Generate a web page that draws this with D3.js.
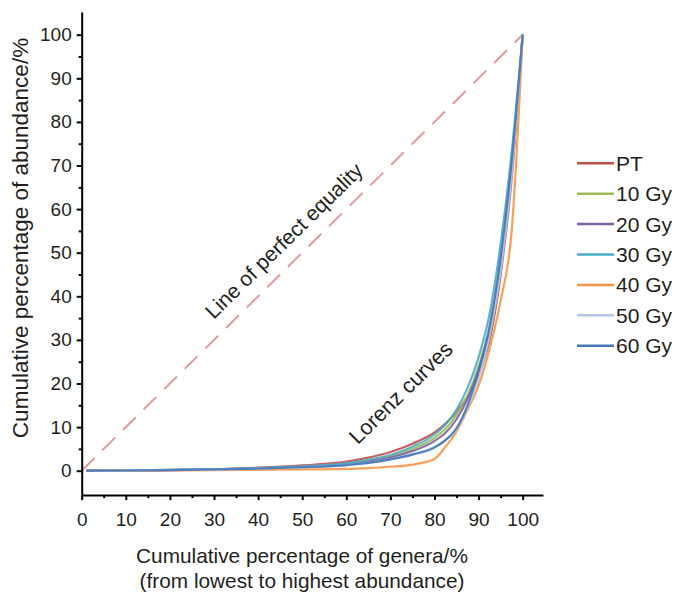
<!DOCTYPE html>
<html>
<head>
<meta charset="utf-8">
<script src="https://cdn.jsdelivr.net/npm/d3@7"></script>
<style>
  body { margin: 0; background: #fff; }
  text { font-family: "Liberation Sans", Arial, sans-serif; fill: #231f20; }
</style>
</head>
<body>
<div id="chart"></div>
<script>
// cumulative % of genera (x) at which each curve is read
const xs = [1, 10, 20, 30, 40, 50, 60, 65, 70, 75, 80, 82.5, 85, 87.5, 90, 92.5, 95, 97.5, 100];

const seriesNames = ["PT", "10 Gy", "20 Gy", "30 Gy", "40 Gy", "50 Gy", "60 Gy"];
const seriesColors = ["#c0504d", "#9bbb59", "#8064a2", "#4bacc6", "#f79646", "#b3c9e6", "#4677b8"];

const pt    = [0, 0.05, 0.2, 0.35, 0.7, 1.2, 2.1, 3, 4.3, 6.2, 8.8, 10.8, 13.5, 17, 22, 30, 45, 67, 100];
const gy10  = [0, 0.05, 0.15, 0.3, 0.5, 0.9, 1.6, 2.3, 3.3, 5, 7.5, 9.6, 12.8, 17.3, 24, 33, 48, 70, 100];
const gy20  = [0, 0.05, 0.15, 0.3, 0.5, 0.9, 1.5, 2.1, 3, 4.5, 6.8, 8.7, 11.8, 16.5, 23, 32, 47, 69, 100];
const gy30  = [0, 0.05, 0.2, 0.3, 0.6, 1, 1.7, 2.5, 3.6, 5.5, 8.3, 10.6, 14, 19, 26, 36, 52, 73, 100];
const gy40  = [0, 0, 0.05, 0.1, 0.2, 0.3, 0.4, 0.6, 0.9, 1.4, 2.7, 5.5, 9, 14, 19.5, 28, 39, 55, 100];
const gy50  = [0, 0.05, 0.15, 0.25, 0.45, 0.8, 1.3, 1.8, 2.6, 3.8, 5.5, 7, 9.5, 14.5, 21, 31, 46, 68, 100];
const gy60  = [0, 0.05, 0.15, 0.3, 0.5, 0.8, 1.3, 1.8, 2.6, 3.7, 5.3, 7, 9.8, 15, 23, 33, 49, 71, 100];
const seriesValues = [pt, gy10, gy20, gy30, gy40, gy50, gy60];

const majorTicks = [0, 10, 20, 30, 40, 50, 60, 70, 80, 90, 100];
const minorTicks = [5, 15, 25, 35, 45, 55, 65, 75, 85, 95];

const width = 676;
const height = 593;

const svg = d3.select("#chart").append("svg")
  .attr("width", width)
  .attr("height", height);

const x = d3.scaleLinear().domain([0, 104.6]).range([81.7, 81.7 + 4.41 * 104.6]);
const y = d3.scaleLinear().domain([-5.6, 105.2]).range([470.7 + 4.36 * 5.6, 470.7 - 4.36 * 105.2]);

// perfect equality line
svg.append("line")
  .attr("x1", x(0)).attr("y1", y(0))
  .attr("x2", x(100)).attr("y2", y(100))
  .attr("stroke", "#e29a9a")
  .attr("stroke-width", 2)
  .attr("stroke-dasharray", "18,11");

// lorenz curves
const line = d3.line()
  .x((d) => x(d[0]))
  .y((d) => y(d[1]))
  .curve(d3.curveMonotoneX);

svg.append("g").selectAll("path")
  .data(seriesValues)
  .enter()
  .append("path")
  .attr("d", (vals) => line(vals.map((v, i) => [xs[i], v])))
  .attr("fill", "none")
  .attr("stroke", (d, i) => seriesColors[i])
  .attr("stroke-width", 2.2)
  .attr("stroke-opacity", 0.9);

// axes
svg.append("g")
  .attr("transform", `translate(0,${y(-5.6)})`)
  .call(d3.axisBottom(x).tickValues(majorTicks).tickSize(5).tickSizeOuter(0).tickPadding(12));
svg.append("g")
  .attr("transform", `translate(0,${y(-5.6)})`)
  .call(d3.axisBottom(x).tickValues(minorTicks).tickSize(3).tickFormat(""))
  .select(".domain").remove();

svg.append("g")
  .attr("transform", `translate(${x(0)},0)`)
  .call(d3.axisLeft(y).tickValues(majorTicks).tickSize(5).tickSizeOuter(0).tickPadding(5));
svg.append("g")
  .attr("transform", `translate(${x(0)},0)`)
  .call(d3.axisLeft(y).tickValues(minorTicks).tickSize(3).tickFormat(""))
  .select(".domain").remove();

svg.selectAll(".domain, .tick line")
  .attr("stroke", "#000")
  .attr("stroke-width", 2);
svg.selectAll(".tick text")
  .style("font-family", "'Liberation Sans', Arial, sans-serif")
  .style("font-size", "19px")
  .attr("fill", "#231f20");

// axis titles
svg.append("text")
  .attr("x", 302).attr("y", 563)
  .attr("text-anchor", "middle")
  .style("font-size", "20.8px")
  .text("Cumulative percentage of genera/%");
svg.append("text")
  .attr("x", 302).attr("y", 588)
  .attr("text-anchor", "middle")
  .style("font-size", "20.8px")
  .text("(from lowest to highest abundance)");
svg.append("text")
  .attr("transform", "translate(28,238) rotate(-90)")
  .attr("text-anchor", "middle")
  .style("font-size", "22.5px")
  .text("Cumulative percentage of abundance/%");

// annotations
svg.append("text")
  .attr("transform", "translate(289,246) rotate(-44.5)")
  .attr("text-anchor", "middle")
  .style("font-size", "21px")
  .text("Line of perfect equality");
svg.append("text")
  .attr("transform", "translate(406,398) rotate(-44.5)")
  .attr("text-anchor", "middle")
  .style("font-size", "21.5px")
  .text("Lorenz curves");

// legend
const legend = svg.append("g").selectAll("g")
  .data(seriesNames)
  .enter()
  .append("g")
  .attr("transform", (d, i) => `translate(577,${163.3 + i * 30.4})`);
legend.append("line")
  .attr("x1", 0).attr("x2", 37)
  .attr("stroke", (d, i) => seriesColors[i])
  .attr("stroke-width", 2.5);
legend.append("text")
  .attr("x", 39).attr("y", 7.5)
  .style("font-size", "21px")
  .text((d) => d);
</script>
</body>
</html>
